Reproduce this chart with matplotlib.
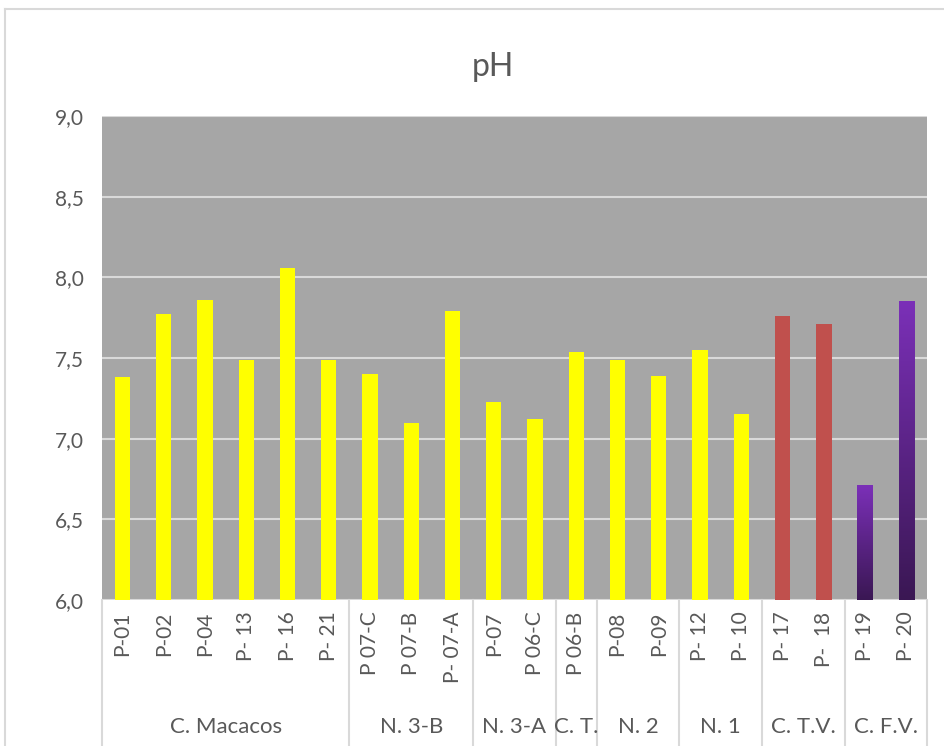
import matplotlib.pyplot as plt
import numpy as np
from matplotlib.colors import LinearSegmentedColormap

# pontos de coleta e valores de pH
labels = ['P-01', 'P-02', 'P-04', 'P- 13', 'P- 16', 'P- 21',
          'P 07-C', 'P 07-B', 'P- 07-A',
          'P-07', 'P 06-C',
          'P 06-B',
          'P-08', 'P-09',
          'P- 12', 'P- 10',
          'P- 17', 'P-  18',
          'P- 19', 'P- 20']
values = [7.38, 7.77, 7.86, 7.49, 8.06, 7.49,
          7.40, 7.10, 7.79,
          7.23, 7.12,
          7.54,
          7.49, 7.39,
          7.55, 7.15,
          7.76, 7.71,
          6.71, 7.85]
groups = ['C. Macacos', 'N. 3-B', 'N. 3-A', 'C. T.', 'N. 2', 'N. 1', 'C. T.V.', 'C. F.V.']
group_sizes = [6, 3, 2, 1, 2, 2, 2, 2]
yticks = [6.0, 6.5, 7.0, 7.5, 8.0, 8.5, 9.0]
ytick_labels = ['6,0', '6,5', '7,0', '7,5', '8,0', '8,5', '9,0']

plt.rcParams['font.family'] = ['Lato', 'DejaVu Sans']
text_color = '#595959'

fig = plt.figure(figsize=(9.44, 7.46), dpi=100)
ax = fig.add_axes([0.108, 0.1957, 0.874, 0.6488])
ax.set_facecolor('#A6A6A6')

x = np.arange(len(values))
width = 0.37
colors = ['#FFFF00'] * 16 + ['#C0504D'] * 2 + ['none'] * 2
ax.bar(x, [v - 6 for v in values], width, bottom=6, color=colors, zorder=3)

# barras roxas com degradê
purple = LinearSegmentedColormap.from_list('roxo', ['#3A1753', '#7B30B8'])
grad = np.linspace(0, 1, 256).reshape(-1, 1)
for i in range(18, 20):
    ax.imshow(grad, cmap=purple, origin='lower', aspect='auto',
              extent=[x[i] - width / 2, x[i] + width / 2, 6, values[i]], zorder=3)

ax.set_xlim(-0.5, len(values) - 0.5)
ax.set_ylim(6, 9)
ax.set_yticks(yticks)
ax.set_yticklabels(ytick_labels)
ax.yaxis.grid(True, color='#D9D9D9', linewidth=1.5, zorder=1)
ax.set_axisbelow(True)
ax.tick_params(axis='y', length=0, pad=13, labelsize=15, labelcolor=text_color)
for s in ax.spines.values():
    s.set_visible(False)

# rótulos dos pontos
ax.set_xticks([])
trans = ax.get_xaxis_transform()
for i, lab in enumerate(labels):
    ax.text(x[i], -0.024, lab, rotation=90, ha='center', va='top',
            fontsize=15, color=text_color, transform=trans)

# rótulos dos grupos e divisórias
start = 0
bounds = [-0.5]
for g, n in zip(groups, group_sizes):
    center = start + (n - 1) / 2
    ax.text(center, -0.262, g, ha='center', va='center', fontsize=16,
            color=text_color, transform=trans)
    start += n
    bounds.append(start - 0.5)
for b in bounds:
    ax.plot([b, b], [0, -0.31], color='#D9D9D9', linewidth=1.5,
            transform=trans, clip_on=False)

fig.text(0.522, 0.91, 'pH', ha='center', va='center', fontsize=23, color=text_color)

# borda da área do gráfico
fig.add_artist(plt.Line2D([0.0055, 0.0055], [0, 0.988], color='#D9D9D9', linewidth=1.5))
fig.add_artist(plt.Line2D([0.0055, 1], [0.988, 0.988], color='#D9D9D9', linewidth=1.5))

plt.savefig('out.png', dpi=100)
plt.close()
